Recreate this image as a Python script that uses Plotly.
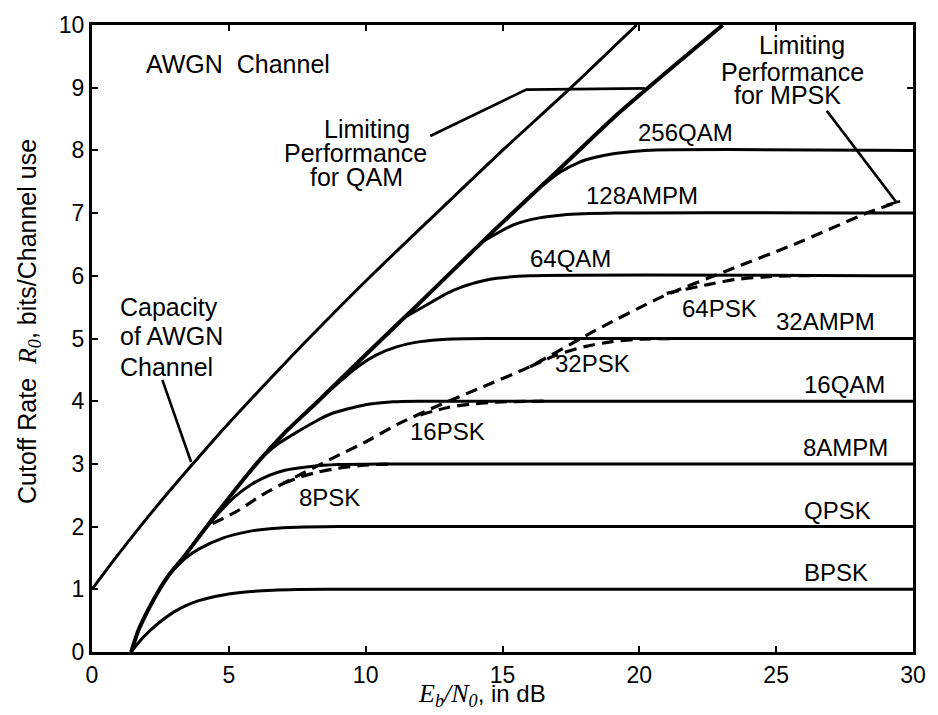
import plotly.graph_objects as go

# ---------------- data (Eb/N0 in dB, R0 in bits/channel use) ----------------
cap_ebno = [0.0, 0.86, 1.76, 2.70, 3.68, 4.69, 5.74, 6.82, 7.92, 10.2, 12.59, 15.0, 17.5, 19.9]
cap_r0 = [1.0, 1.5, 2.0, 2.5, 3.0, 3.5, 4.0, 4.5, 5.0, 6.0, 7.0, 8.0, 9.0, 10.0]

qamlim_ebno = [1.43, 1.7, 1.98, 2.4, 2.83, 3.43, 4.52, 5.85, 7.05, 8.26, 10.0, 12.0, 14.78, 17.0, 19.13, 21.0, 23.05]
qamlim_r0 = [0.0, 0.35, 0.61, 0.95, 1.24, 1.56, 2.19, 2.92, 3.5, 4.0, 4.74, 5.58, 6.76, 7.67, 8.55, 9.25, 10.0]

bpsk_ebno = [1.43, 1.8, 2.22, 2.46, 3.0, 3.43, 3.9, 4.8, 5.7, 6.6, 7.5, 9.0, 30.0]
bpsk_r0 = [0.0, 0.2, 0.38, 0.47, 0.64, 0.74, 0.82, 0.91, 0.96, 0.985, 0.995, 1.0, 1.0]

qpsk_ebno = [2.83, 3.43, 3.9, 4.8, 5.7, 6.6, 7.5, 9.0, 30.0]
qpsk_r0 = [1.24, 1.5, 1.64, 1.82, 1.92, 1.97, 1.99, 2.0, 2.0]

ampm8_ebno = [3.43, 4.0, 4.6, 5.2, 5.85, 6.5, 7.05, 8.0, 9.0, 10.5, 30.0]
ampm8_r0 = [1.56, 1.89, 2.2, 2.47, 2.68, 2.82, 2.9, 2.96, 2.99, 3.0, 3.0]

qam16_ebno = [6.3, 6.8, 7.54, 8.26, 8.74, 9.95, 11.0, 12.0, 30.0]
qam16_r0 = [3.14, 3.32, 3.52, 3.7, 3.8, 3.94, 3.99, 4.0, 4.0]

ampm32_ebno = [8.6, 9.71, 10.4, 11.16, 12.0, 12.97, 14.78, 30.0]
ampm32_r0 = [4.14, 4.55, 4.74, 4.87, 4.95, 4.99, 5.0, 5.0]

qam64_ebno = [11.4, 12.37, 12.97, 13.5, 14.3, 14.78, 16.0, 30.0]
qam64_r0 = [5.33, 5.57, 5.72, 5.82, 5.92, 5.96, 6.0, 6.0]

ampm128_ebno = [14.3, 15.39, 16.3, 17.2, 19.1, 30.0]
ampm128_r0 = [6.55, 6.81, 6.92, 6.97, 7.0, 7.0]

qam256_ebno = [16.47, 17.1, 17.8, 18.4, 19.1, 20.2, 30.0]
qam256_r0 = [7.44, 7.65, 7.81, 7.89, 7.95, 8.0, 8.0]

mpsklim_ebno = [4.4, 5.24, 6.2, 7.3, 8.74, 9.95, 11.16, 12.6, 14.18, 15.99, 18.4, 20.8, 23.2, 25.65, 28.43, 29.4]
mpsklim_r0 = [2.05, 2.23, 2.5, 2.76, 3.08, 3.34, 3.63, 3.92, 4.21, 4.55, 5.13, 5.66, 6.08, 6.5, 7.02, 7.17]

psk8_ebno = [7.0, 7.6, 8.26, 9.0, 9.95, 11.0]
psk8_r0 = [2.69, 2.79, 2.87, 2.93, 2.98, 3.0]

psk16_ebno = [12.0, 13.0, 14.0, 15.0, 16.5]
psk16_r0 = [3.78, 3.9, 3.96, 3.99, 4.0]

psk32_ebno = [16.0, 17.0, 18.0, 19.0, 20.0, 21.5]
psk32_r0 = [4.55, 4.74, 4.87, 4.95, 4.99, 5.0]

psk64_ebno = [21.0, 22.5, 23.5, 24.5, 25.5, 26.5]
psk64_r0 = [5.72, 5.86, 5.94, 5.98, 6.0, 6.0]

# callout leader lines
cap_ptr_ebno = [2.57, 3.62]
cap_ptr_r0 = [4.34, 3.03]
qam_ptr_ebno = [12.36, 15.87, 20.2]
qam_ptr_r0 = [8.23, 8.97, 8.99]
mpsk_ptr_ebno = [26.85, 29.38]
mpsk_ptr_r0 = [8.63, 7.18]
mpsk_bar_ebno = [29.02, 29.53]
mpsk_bar_r0 = [7.13, 7.19]

curve_labels = ["256QAM", "128AMPM", "64QAM", "32AMPM", "16QAM", "8AMPM", "QPSK", "BPSK",
                "64PSK", "32PSK", "16PSK", "8PSK"]

x_ticks = [0, 5, 10, 15, 20, 25, 30]
y_ticks = [0, 1, 2, 3, 4, 5, 6, 7, 8, 9, 10]

# ---------------- figure ----------------
SANS = "Liberation Sans, Arial, Helvetica, sans-serif"
fig = go.Figure()


def add(x, y, width=3.0, dash="solid", smooth=True):
    fig.add_trace(go.Scatter(
        x=x, y=y, mode="lines", showlegend=False, hoverinfo="skip",
        line=dict(color="black", width=width, dash=dash,
                  shape="spline" if smooth else "linear", smoothing=0.7 if smooth else 0)))


add(cap_ebno, cap_r0, width=3.0)
for xs, ys in [(bpsk_ebno, bpsk_r0), (qpsk_ebno, qpsk_r0), (ampm8_ebno, ampm8_r0),
               (qam16_ebno, qam16_r0), (ampm32_ebno, ampm32_r0), (qam64_ebno, qam64_r0),
               (ampm128_ebno, ampm128_r0), (qam256_ebno, qam256_r0)]:
    add(xs, ys, width=3.0)
add(qamlim_ebno, qamlim_r0, width=4.0)

DASH = "12px,7px"
for xs, ys in [(mpsklim_ebno, mpsklim_r0), (psk8_ebno, psk8_r0), (psk16_ebno, psk16_r0),
               (psk32_ebno, psk32_r0), (psk64_ebno, psk64_r0)]:
    add(xs, ys, width=3.2, dash=DASH)

for xs, ys in [(cap_ptr_ebno, cap_ptr_r0), (qam_ptr_ebno, qam_ptr_r0),
               (mpsk_ptr_ebno, mpsk_ptr_r0), (mpsk_bar_ebno, mpsk_bar_r0)]:
    add(xs, ys, width=2.6, smooth=False)

FS = 25
YS = 4
label_pos = [(21.67, 8.22), (20.1, 7.21), (17.5, 6.22), (26.8, 5.2), (27.5, 4.2), (27.55, 3.2),
             (27.25, 2.2), (27.2, 1.21), (22.93, 5.41), (18.3, 4.54), (13.0, 3.45), (8.67, 2.4)]
for txt, (lx, ly) in zip(curve_labels, label_pos):
    fig.add_annotation(x=lx, y=ly, text=txt, showarrow=False, xanchor="center", yanchor="middle",
                       yshift=YS, font=dict(family=SANS, size=FS - 1, color="black"))

text_blocks = [
    ("AWGN\u00a0 Channel", 5.33, 9.31, "center"),
    ("Capacity", 0.94, 5.44, "left"),
    ("of AWGN", 0.94, 4.97, "left"),
    ("Channel", 0.94, 4.48, "left"),
    ("Limiting", 10.04, 8.28, "center"),
    ("Performance", 9.64, 7.89, "center"),
    ("for QAM", 9.67, 7.52, "center"),
    ("Limiting", 25.94, 9.62, "center"),
    ("Performance", 25.58, 9.18, "center"),
    ("for MPSK", 25.4, 8.82, "center"),
]
for txt, tx, ty, anc in text_blocks:
    fig.add_annotation(x=tx, y=ty, text=txt, showarrow=False, xanchor=anc, yanchor="middle",
                       yshift=YS, font=dict(family=SANS, size=FS, color="black"))

SERIF = "font-family:'Liberation Serif', 'Times New Roman', serif; font-size:26px"
fig.add_annotation(
    xref="paper", yref="paper", x=-0.0775, y=0.527, textangle=-90, showarrow=False,
    xanchor="center", yanchor="middle",
    text=f"Cutoff Rate\u00a0 <span style=\"{SERIF}\"><i>R</i><sub><i>0</i></sub></span>, bits/Channel use",
    font=dict(family=SANS, size=25, color="black"))
fig.add_annotation(
    xref="paper", yref="paper", x=0.4746, y=-0.069, showarrow=False,
    xanchor="center", yanchor="middle",
    text=f"<span style=\"{SERIF}\"><i>E</i><sub><i>b</i></sub><i>/N</i><sub><i>0</i></sub></span>, in dB",
    font=dict(family=SANS, size=24, color="black"))

axis_common = dict(
    showgrid=False, zeroline=False, showline=True, linecolor="black", linewidth=3,
    mirror="ticks", ticks="inside", ticklen=6, tickwidth=2, tickcolor="black",
    tickfont=dict(family=SANS, size=23, color="black"),
)
fig.update_xaxes(range=[0, 30], tickvals=x_ticks, **axis_common)
fig.update_yaxes(range=[0, 10], tickvals=y_ticks, **axis_common)

fig.update_layout(
    width=938, height=715,
    margin=dict(l=92, r=18, t=18, b=63),
    plot_bgcolor="white", paper_bgcolor="white",
    showlegend=False,
)

fig.write_html("out.html")
